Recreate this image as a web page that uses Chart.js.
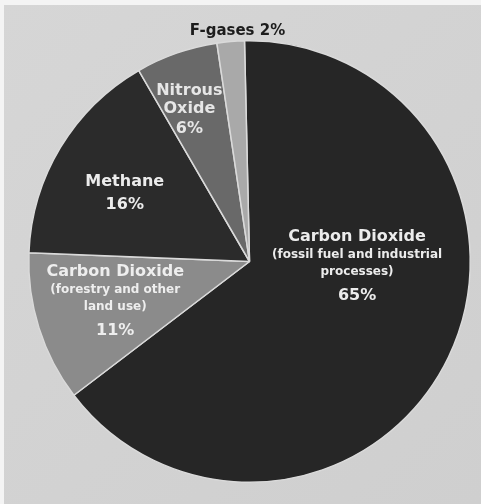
<!DOCTYPE html>
<html>
<head>
<meta charset="utf-8">
<script src="https://cdn.jsdelivr.net/npm/chart.js@4.4.1/dist/chart.umd.min.js"></script>
<style>
  html, body { margin: 0; padding: 0; background: #f4f4f4; }
  #wrap { position: relative; width: 481px; height: 504px; }
  canvas { display: block; }
</style>
</head>
<body>
<div id="wrap"><canvas id="c" width="481" height="504"></canvas></div>
<script>
// ---- data ----
const categories = [
  'Carbon Dioxide (fossil fuel and industrial processes)',
  'Carbon Dioxide (forestry and other land use)',
  'Methane',
  'Nitrous Oxide',
  'F-gases'
];
const values = [65, 11, 16, 6, 2];
const titleLines = [
  ['Carbon Dioxide'],
  ['Carbon Dioxide'],
  ['Methane'],
  ['Nitrous', 'Oxide'],
  ['F-gases']
];
const subLines = [
  ['(fossil fuel and industrial', 'processes)'],
  ['(forestry and other', 'land use)'],
  [],
  [],
  []
];

// ---- styles ----
const sliceColors = ['#262626', '#8b8b8b', '#2b2b2b', '#696969', '#a9a9a9'];
// label anchors: clock angle (deg, clockwise from top) and radius fraction
const labelAnchors = [
  { clock: 77, rf: 0.50, color: '#ececec', inline: false },
  { clock: 265.5, rf: 0.61, color: '#eeeeee', inline: false },
  { clock: 302.5, rf: 0.67, color: '#ececec', inline: false },
  { clock: 340.6, rf: 0.82, color: '#e6e6e6', inline: false },
  { clock: 357, rf: 1.045, color: '#1c1c1c', inline: true }
];
const FONT = '"DejaVu Sans", sans-serif';

const bgPlugin = {
  id: 'bg',
  beforeDraw(chart) {
    const ctx = chart.ctx;
    ctx.save();
    ctx.fillStyle = '#f4f4f4';
    ctx.fillRect(0, 0, chart.width, chart.height);
    const g = ctx.createLinearGradient(0, 0, chart.width, chart.height);
    g.addColorStop(0, '#d6d6d6');
    g.addColorStop(1, '#cfcfcf');
    ctx.fillStyle = g;
    ctx.fillRect(4, 5, chart.width - 4, chart.height - 5);
    ctx.restore();
  }
};

const labelPlugin = {
  id: 'sliceLabels',
  afterDatasetsDraw(chart) {
    const ctx = chart.ctx;
    const meta = chart.getDatasetMeta(0);
    ctx.save();
    ctx.textAlign = 'center';
    ctx.textBaseline = 'middle';
    meta.data.forEach((arc, i) => {
      const a = labelAnchors[i];
      const ang = (a.clock - 90) * Math.PI / 180;
      const r = arc.outerRadius * a.rf;
      const x = arc.x + r * Math.cos(ang);
      let y = arc.y + r * Math.sin(ang);
      const pct = values[i] + '%';
      ctx.fillStyle = a.color;
      if (a.inline) {
        ctx.font = 'bold 15px ' + FONT;
        ctx.fillText(titleLines[i].join(' ') + ' ' + pct, x, y);
        return;
      }
      const titles = titleLines[i];
      const subs = subLines[i];
      titles.forEach((t, k) => {
        ctx.font = 'bold 16px ' + FONT;
        ctx.fillText(t, x, y);
        if (k < titles.length - 1) y += 18;
      });
      if (subs.length) {
        y += 18;
        subs.forEach((s, k) => {
          ctx.font = 'bold 12px ' + FONT;
          ctx.fillText(s, x, y);
          if (k < subs.length - 1) y += 17;
        });
        y += 24;
      } else {
        y += titles.length > 1 ? 20 : 23;
      }
      ctx.font = 'bold 16px ' + FONT;
      ctx.fillText(pct, x, y);
    });
    ctx.restore();
  }
};

new Chart(document.getElementById('c'), {
  type: 'pie',
  data: {
    labels: categories,
    datasets: [{
      data: values,
      backgroundColor: sliceColors,
      borderColor: '#dadada',
      borderWidth: 1.5
    }]
  },
  options: {
    responsive: false,
    animation: false,
    rotation: -1.3,
    layout: { padding: { left: 28, right: 10, top: 40, bottom: 21 } },
    plugins: {
      legend: { display: false },
      tooltip: { enabled: false }
    }
  },
  plugins: [bgPlugin, labelPlugin]
});
</script>
</body>
</html>
